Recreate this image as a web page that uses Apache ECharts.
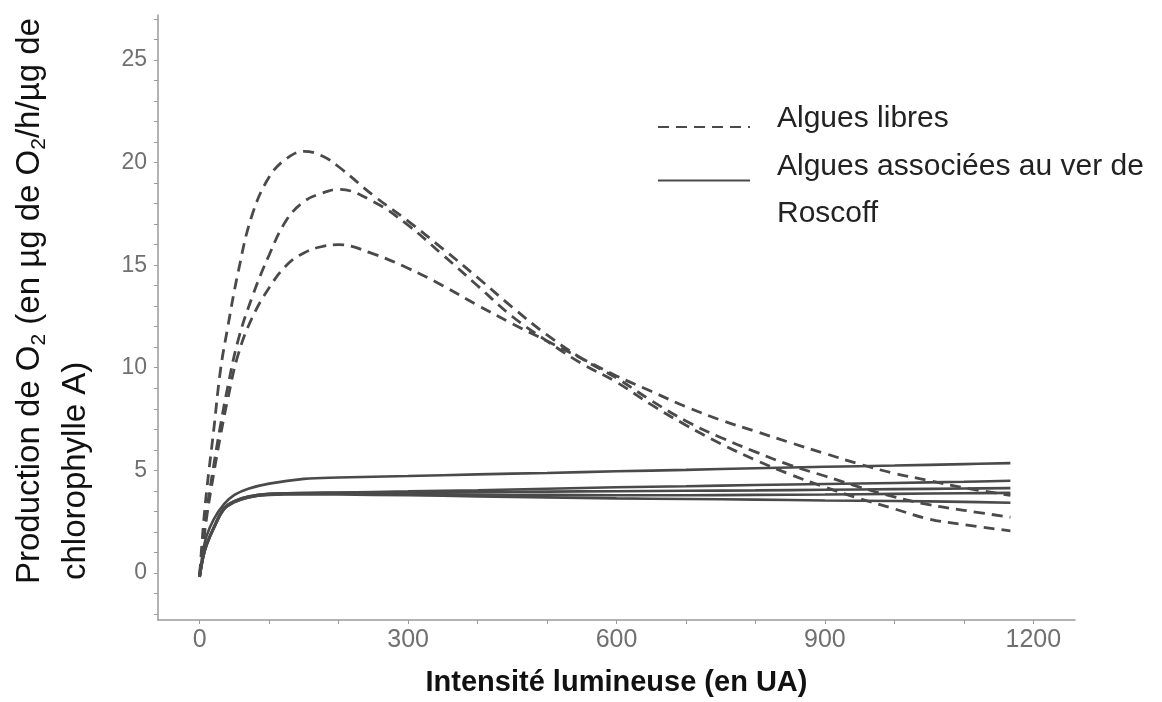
<!DOCTYPE html>
<html>
<head>
<meta charset="utf-8">
<script src="https://cdn.jsdelivr.net/npm/echarts@6/dist/echarts.min.js"></script>
<style>
    html, body { margin: 0; padding: 0; background: #fff; }
    #chart { width: 1162px; height: 702px; }
</style>
</head>
<body>
<div id="chart"></div>
<script>
// values
const xFree = [0, 5, 10, 20, 30, 40, 55, 75, 100, 125, 150, 175, 200, 250, 300, 350,
    400, 450, 500, 550, 600, 650, 700, 750, 800, 850, 900, 950, 1000, 1050, 1100, 1167];
const free1 = [-0.1, 2.2, 4.0, 6.9, 9.9, 11.9, 14.6, 17.4, 19.3, 20.2, 20.55, 20.35, 19.8, 18.4,
    17.15, 15.8, 14.4, 12.95, 11.6, 10.45, 9.5, 8.4, 7.4, 6.6, 5.9, 5.25, 4.72, 4.18, 3.7, 3.32, 3.05, 2.71];
const free2 = [-0.1, 1.5, 3.0, 5.2, 7.2, 9.0, 11.3, 13.4, 15.5, 17.2, 18.1, 18.5, 18.7, 18.1,
    16.95, 15.5, 14.0, 12.5, 11.3, 10.2, 9.3, 8.2, 7.2, 6.3, 5.5, 4.8, 4.18, 3.62, 3.12, 2.62, 2.35, 2.05];
const free3 = [-0.1, 1.3, 2.7, 4.8, 6.7, 8.4, 10.6, 12.4, 13.9, 15.0, 15.6, 15.9, 16.0, 15.55,
    14.85, 14.0, 13.05, 12.15, 11.3, 10.45, 9.6, 8.85, 8.1, 7.45, 6.9, 6.35, 5.82, 5.3, 4.85, 4.5, 4.15, 3.78];

const xAssoc = [0, 5, 10, 20, 35, 50, 70, 100, 150, 200, 300, 400, 500, 600, 700, 800, 900, 1000, 1100, 1167];
const assoc1 = [-0.2, 1.1, 1.8, 2.6, 3.35, 3.8, 4.1, 4.35, 4.58, 4.65, 4.72, 4.8, 4.87, 4.95, 5.02, 5.1, 5.17, 5.23, 5.3, 5.35];
const assoc2 = [-0.2, 0.8, 1.4, 2.2, 3.15, 3.5, 3.72, 3.85, 3.9, 3.92, 3.97, 4.03, 4.1, 4.17, 4.22, 4.28, 4.33, 4.38, 4.44, 4.49];
const assoc3 = [-0.2, 0.8, 1.4, 2.2, 3.15, 3.5, 3.72, 3.85, 3.88, 3.9, 3.92, 3.94, 3.96, 3.98, 4.0, 4.02, 4.05, 4.08, 4.11, 4.13];
const assoc4 = [-0.2, 0.75, 1.35, 2.15, 3.1, 3.45, 3.68, 3.82, 3.86, 3.86, 3.84, 3.82, 3.8, 3.78, 3.78, 3.8, 3.82, 3.85, 3.88, 3.9];
const assoc5 = [-0.2, 0.75, 1.35, 2.15, 3.1, 3.45, 3.68, 3.8, 3.83, 3.82, 3.78, 3.73, 3.68, 3.63, 3.6, 3.57, 3.53, 3.5, 3.46, 3.42];

const xTickLabels = [0, 300, 600, 900, 1200];
const xTicks = [0, 100, 200, 300, 400, 500, 600, 700, 800, 900, 1000, 1100, 1200];
const yTickLabels = [0, 5, 10, 15, 20, 25];
const yTicks = [-2, -1, 0, 1, 2, 3, 4, 5, 6, 7, 8, 9, 10, 11, 12, 13, 14, 15, 16, 17, 18, 19, 20, 21, 22, 23, 24, 25, 26, 27];

const nameFree = 'Algues libres';
const nameAssoc = 'Algues associées au ver de\nRoscoff';

const lineColor = '#4a4a4a';
const axisColor = '#9a9a9a';
const labelColor = '#707070';
const sansFont = 'Liberation Sans, Arial, sans-serif';
const narrowFont = 'Liberation Sans Narrow, Arial Narrow, sans-serif';

function pairs(xs, ys) {
    return xs.map((x, i) => [x, ys[i]]);
}

function makeSeries(name, xs, ys, dashed) {
    return {
        name: name,
        type: 'line',
        smooth: 0.4,
        symbol: 'none',
        data: pairs(xs, ys),
        lineStyle: {
            color: lineColor,
            width: dashed ? 2.8 : 2.6,
            type: dashed ? [11, 7] : 'solid',
        },
        itemStyle: { color: lineColor },
    };
}

// one legend per entry; an empty spacer line nudges the text off the icon's centre
function makeLegend(name, top, spacerHeight, spacerFirst) {
    return {
        data: [name],
        orient: 'vertical',
        left: 657,
        top: top,
        padding: 0,
        itemWidth: 92,
        itemHeight: 16,
        itemStyle: { opacity: 0 },
        formatter: (n) => {
            const lines = n.split('\n').map((l) => `{t|${l}}`);
            if (spacerFirst) lines.unshift('{sp| }');
            else lines.push('{sp| }');
            return lines.join('\n');
        },
        textStyle: {
            rich: {
                t: {
                    fontFamily: sansFont,
                    fontSize: 30,
                    color: '#222',
                    lineHeight: 47,
                    padding: [0, 0, 0, 22],
                },
                sp: { fontSize: 1, lineHeight: spacerHeight },
            },
        },
    };
}

const chart = echarts.init(document.getElementById('chart'));
chart.setOption({
    animation: false,
    backgroundColor: '#fff',
    grid: { left: 158, right: 87, top: 15, bottom: 63 },
    legend: [
        makeLegend(nameFree, 104, 16, false),
        makeLegend(nameAssoc, 133, 20, true),
    ],
    xAxis: {
        type: 'value',
        min: -60,
        max: 1260,
        splitLine: { show: false },
        axisLine: { onZero: false, lineStyle: { color: axisColor, width: 1.5 } },
        axisTick: { customValues: xTicks, length: 4, lineStyle: { color: axisColor } },
        axisLabel: {
            customValues: xTickLabels,
            formatter: (v) => String(v),
            fontFamily: narrowFont,
            fontSize: 25,
            color: labelColor,
            margin: 8,
        },
        name: 'Intensité lumineuse (en UA)',
        nameLocation: 'middle',
        nameGap: 48,
        nameTextStyle: {
            fontFamily: narrowFont,
            fontWeight: 'bold',
            fontSize: 29,
            color: '#111',
        },
    },
    yAxis: {
        type: 'value',
        min: -2.3,
        max: 27.2,
        splitLine: { show: false },
        axisLine: { onZero: false, lineStyle: { color: axisColor, width: 1.5 } },
        axisTick: { customValues: yTicks, length: 4, lineStyle: { color: axisColor } },
        axisLabel: {
            customValues: yTickLabels,
            fontFamily: sansFont,
            fontSize: 23,
            color: labelColor,
            margin: 11,
        },
    },
    graphic: [
        {
            type: 'text',
            x: 30, y: 584,
            rotation: Math.PI / 2,
            style: {
                text: '{a|Production de O}{s|2}{a| (en µg de O}{s|2}{a|/h/µg de}',
                textAlign: 'left',
                textVerticalAlign: 'middle',
                rich: {
                    a: { fontFamily: sansFont, fontSize: 33, fill: '#111', lineHeight: 40 },
                    s: { fontFamily: sansFont, fontSize: 21, fill: '#111', lineHeight: 40, verticalAlign: 'bottom', padding: [14, 0, 0, 0] },
                },
            },
        },
        {
            type: 'text',
            x: 76, y: 580,
            rotation: Math.PI / 2,
            style: {
                text: 'chlorophylle A)',
                textAlign: 'left',
                textVerticalAlign: 'middle',
                font: '33px "Liberation Sans", Arial, sans-serif',
                fill: '#111',
            },
        },
    ],
    series: [
        makeSeries(nameFree, xFree, free1, true),
        makeSeries(nameFree, xFree, free2, true),
        makeSeries(nameFree, xFree, free3, true),
        makeSeries(nameAssoc, xAssoc, assoc1, false),
        makeSeries(nameAssoc, xAssoc, assoc2, false),
        makeSeries(nameAssoc, xAssoc, assoc3, false),
        makeSeries(nameAssoc, xAssoc, assoc4, false),
        makeSeries(nameAssoc, xAssoc, assoc5, false),
    ],
});
</script>
</body>
</html>
